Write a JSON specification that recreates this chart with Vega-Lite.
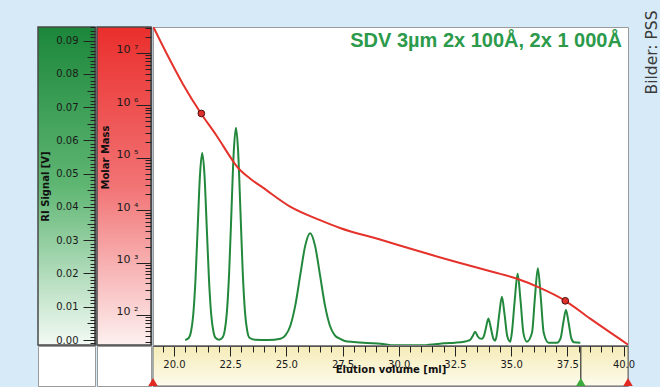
{
  "$schema": "https://vega.github.io/schema/vega-lite/v6.json",
  "background": "#d6eaf7",
  "padding": {"left": 36, "top": 9, "right": 0, "bottom": 0},
  "bounds": "flush",
  "config": {
    "view": {"stroke": "#9a9a9a", "fill": "white"},
    "font": "DejaVu Sans",
    "axis": {"grid": false, "labelFont": "DejaVu Sans", "titleFont": "DejaVu Sans"}
  },
  "datasets": {
    "ri": [
      {"V": 20.50, "RI": 0.0000}, {"V": 20.66, "RI": 0.0006}, {"V": 20.76, "RI": 0.0025}, {"V": 20.86, "RI": 0.0076},
      {"V": 20.96, "RI": 0.0182}, {"V": 21.06, "RI": 0.0341}, {"V": 21.16, "RI": 0.0496}, {"V": 21.26, "RI": 0.0562},
      {"V": 21.36, "RI": 0.0496}, {"V": 21.46, "RI": 0.0341}, {"V": 21.56, "RI": 0.0182}, {"V": 21.66, "RI": 0.0076},
      {"V": 21.76, "RI": 0.0025}, {"V": 21.86, "RI": 0.0006}, {"V": 22.01, "RI": 0.0001}, {"V": 22.16, "RI": 0.0007},
      {"V": 22.26, "RI": 0.0028}, {"V": 22.36, "RI": 0.0086}, {"V": 22.46, "RI": 0.0207}, {"V": 22.56, "RI": 0.0387},
      {"V": 22.66, "RI": 0.0563}, {"V": 22.76, "RI": 0.0638}, {"V": 22.86, "RI": 0.0563}, {"V": 22.96, "RI": 0.0387},
      {"V": 23.06, "RI": 0.0207}, {"V": 23.16, "RI": 0.0086}, {"V": 23.26, "RI": 0.0028}, {"V": 23.36, "RI": 0.0007},
      {"V": 23.60, "RI": 0.0001}, {"V": 24.20, "RI": 0.0000}, {"V": 24.74, "RI": 0.0004}, {"V": 24.96, "RI": 0.0014},
      {"V": 25.18, "RI": 0.0043}, {"V": 25.40, "RI": 0.0104}, {"V": 25.62, "RI": 0.0195}, {"V": 25.84, "RI": 0.0283},
      {"V": 26.06, "RI": 0.0321}, {"V": 26.28, "RI": 0.0283}, {"V": 26.50, "RI": 0.0195}, {"V": 26.72, "RI": 0.0104},
      {"V": 26.94, "RI": 0.0043}, {"V": 27.16, "RI": 0.0014}, {"V": 27.38, "RI": 0.0004}, {"V": 27.60, "RI": -0.0003},
      {"V": 28.00, "RI": -0.0006}, {"V": 28.60, "RI": -0.0009}, {"V": 29.20, "RI": -0.0011}, {"V": 29.80, "RI": -0.0016},
      {"V": 31.00, "RI": -0.0016}, {"V": 31.70, "RI": -0.0012}, {"V": 32.00, "RI": -0.0010}, {"V": 32.50, "RI": -0.0008},
      {"V": 32.90, "RI": -0.0005}, {"V": 33.10, "RI": -0.0002}, {"V": 33.20, "RI": 0.0002}, {"V": 33.30, "RI": 0.0013},
      {"V": 33.40, "RI": 0.0025}, {"V": 33.50, "RI": 0.0013}, {"V": 33.60, "RI": 0.0005}, {"V": 33.70, "RI": 0.0004},
      {"V": 33.80, "RI": 0.0014}, {"V": 33.88, "RI": 0.0036}, {"V": 33.99, "RI": 0.0065}, {"V": 34.10, "RI": 0.0036},
      {"V": 34.21, "RI": 0.0004}, {"V": 34.29, "RI": -0.0002}, {"V": 34.35, "RI": 0.0011}, {"V": 34.47, "RI": 0.0076},
      {"V": 34.59, "RI": 0.0130}, {"V": 34.71, "RI": 0.0076}, {"V": 34.83, "RI": 0.0011}, {"V": 34.96, "RI": -0.0005},
      {"V": 35.03, "RI": 0.0020}, {"V": 35.16, "RI": 0.0118}, {"V": 35.29, "RI": 0.0199}, {"V": 35.42, "RI": 0.0118},
      {"V": 35.55, "RI": 0.0020}, {"V": 35.70, "RI": -0.0005}, {"V": 35.93, "RI": 0.0022}, {"V": 36.06, "RI": 0.0128},
      {"V": 36.19, "RI": 0.0216}, {"V": 36.32, "RI": 0.0128}, {"V": 36.45, "RI": 0.0022}, {"V": 36.67, "RI": -0.0008},
      {"V": 37.04, "RI": -0.0008}, {"V": 37.20, "RI": 0.0005}, {"V": 37.32, "RI": 0.0051}, {"V": 37.44, "RI": 0.0090},
      {"V": 37.56, "RI": 0.0051}, {"V": 37.68, "RI": 0.0005}, {"V": 37.80, "RI": -0.0007}, {"V": 38.08, "RI": -0.0008}
    ],
    "cal": [
      {"V": 19.07, "M": 32400000}, {"V": 19.82, "M": 7410000}, {"V": 20.41, "M": 2510000}, {"V": 21.20, "M": 708000},
      {"V": 21.90, "M": 263000}, {"V": 22.64, "M": 85100}, {"V": 22.79, "M": 69200}, {"V": 23.40, "M": 39800},
      {"V": 23.96, "M": 26900}, {"V": 25.17, "M": 11700}, {"V": 26.50, "M": 6460}, {"V": 27.39, "M": 4570},
      {"V": 29.17, "M": 2750}, {"V": 30.95, "M": 1620}, {"V": 32.73, "M": 977}, {"V": 34.20, "M": 661},
      {"V": 35.27, "M": 490}, {"V": 36.21, "M": 339}, {"V": 37.41, "M": 186}, {"V": 38.52, "M": 85},
      {"V": 40.21, "M": 27}
    ],
    "markers": [
      {"V": 21.22, "M": 700000}, {"V": 37.41, "M": 186}
    ],
    "limits": [
      {"V": 19.07, "kind": "start"}, {"V": 38.10, "kind": "peak end"}, {"V": 40.20, "kind": "end"}
    ]
  },
  "columns": 3,
  "spacing": {"row": 1, "column": 2},
  "concat": [
    {
      "width": 57, "height": 318,
      "data": {"name": "ri"},
      "layer": [
        {
          "transform": [{"aggregate": [{"op": "count", "as": "n"}]}],
          "mark": {"type": "rect", "stroke": "#4a4a4a", "strokeWidth": 1.5,
            "color": {"gradient": "linear", "x1": 0, "y1": 0, "x2": 0, "y2": 1,
              "stops": [{"offset": 0, "color": "#1b873a"}, {"offset": 0.5, "color": "#5fb673"}, {"offset": 1, "color": "#f3faf4"}]}},
          "encoding": {
            "x": {"datum": 0, "type": "quantitative", "scale": {"domain": [0, 1], "nice": false, "zero": false}, "axis": null},
            "x2": {"datum": 1},
            "y": {"datum": -0.0015, "type": "quantitative", "scale": {"domain": [-0.0015, 0.0941], "nice": false, "zero": false},
              "axis": {"orient": "left", "offset": -57, "zindex": 2, "values": [0, 0.01, 0.02, 0.03, 0.04, 0.05, 0.06, 0.07, 0.08, 0.09], "format": ".2f",
                "tickSize": 12, "tickColor": "#222", "labelPadding": 5, "labelFontSize": 10, "labelColor": "#1a1a1a",
                "domain": true, "domainColor": "#4a4a4a", "domainWidth": 1.5,
                "title": "RI Signal [V]", "titleFontSize": 10, "titleFontWeight": "bold", "titleColor": "#111", "titlePadding": 5}},
            "y2": {"datum": 0.0941}
          }
        },
        {
          "mark": {"type": "rule", "opacity": 0},
          "encoding": {
            "x": {"datum": 0.5, "type": "quantitative", "scale": {"domain": [0, 1], "nice": false, "zero": false}, "axis": null},
            "y": {"field": "RI", "type": "quantitative", "scale": {"domain": [-0.0015, 0.0941], "nice": false, "zero": false},
              "axis": {"orient": "left", "offset": -57, "zindex": 2, "tickCount": 96, "tickSize": 5, "tickColor": "#222", "labels": false, "domain": false, "title": null}}
          }
        },
        {
          "mark": {"type": "rule", "opacity": 0},
          "encoding": {
            "x": {"datum": 0.5, "type": "quantitative", "scale": {"domain": [0, 1], "nice": false, "zero": false}, "axis": null},
            "y": {"field": "RI", "type": "quantitative", "scale": {"domain": [-0.0015, 0.0941], "nice": false, "zero": false},
              "axis": {"orient": "left", "offset": -57, "zindex": 2, "values": [0.005, 0.015, 0.025, 0.035, 0.045, 0.055, 0.065, 0.075, 0.085], "tickSize": 8, "tickColor": "#222", "labels": false, "domain": false, "title": null}}
          }
        }
      ],
      "resolve": {"scale": {"y": "independent"}, "axis": {"y": "independent"}}
    },
    {
      "width": 54, "height": 318,
      "data": {"name": "cal"},
      "layer": [
        {
          "transform": [{"aggregate": [{"op": "count", "as": "n"}]}],
          "mark": {"type": "rect", "stroke": "#4a4a4a", "strokeWidth": 1.5,
            "color": {"gradient": "linear", "x1": 0, "y1": 0, "x2": 0, "y2": 1,
              "stops": [{"offset": 0, "color": "#ea2e2c"}, {"offset": 0.5, "color": "#f27374"}, {"offset": 1, "color": "#fdf0f0"}]}},
          "encoding": {
            "x": {"datum": 0, "type": "quantitative", "scale": {"domain": [0, 1], "nice": false, "zero": false}, "axis": null},
            "x2": {"datum": 1},
            "y": {"datum": 26.7, "type": "quantitative", "scale": {"type": "log", "domain": [26.7, 31300000], "nice": false},
              "axis": {"orient": "left", "offset": -54, "zindex": 2, "values": [100, 1000, 10000, 100000, 1000000, 10000000],
                "labelExpr": "'10 ' + ['⁰','¹','²','³','⁴','⁵','⁶','⁷','⁸'][round(log(datum.value)/LN10)]",
                "tickSize": 15, "tickColor": "#222", "labelPadding": -2, "labelFontSize": 11, "labelColor": "#1a1a1a", "labelOffset": -3,
                "domain": true, "domainColor": "#4a4a4a", "domainWidth": 1.5,
                "title": "Molar Mass", "titleFontSize": 10, "titleFontWeight": "bold", "titleColor": "#111", "titlePadding": 6, "titleY": 130}},
            "y2": {"datum": 31300000}
          }
        },
        {
          "mark": {"type": "rule", "opacity": 0},
          "encoding": {
            "x": {"datum": 0.5, "type": "quantitative", "scale": {"domain": [0, 1], "nice": false, "zero": false}, "axis": null},
            "y": {"field": "M", "type": "quantitative", "scale": {"type": "log", "domain": [26.7, 31300000], "nice": false},
              "axis": {"orient": "left", "offset": -54, "zindex": 2,
                "values": [30, 40, 50, 60, 70, 80, 90, 200, 300, 400, 500, 600, 700, 800, 900, 2000, 3000, 4000, 5000, 6000, 7000, 8000, 9000,
                  20000, 30000, 40000, 50000, 60000, 70000, 80000, 90000, 200000, 300000, 400000, 500000, 600000, 700000, 800000, 900000,
                  2000000, 3000000, 4000000, 5000000, 6000000, 7000000, 8000000, 9000000, 20000000, 30000000],
                "tickSize": 6, "tickColor": "#222", "labels": false, "domain": false, "title": null}}
          }
        }
      ],
      "resolve": {"scale": {"y": "independent"}, "axis": {"y": "independent"}}
    },
    {
      "width": 475, "height": 318,
      "layer": [
        {
          "data": {"name": "ri"},
          "mark": {"type": "line", "color": "#22883c", "strokeWidth": 2, "clip": true, "interpolate": "monotone"},
          "encoding": {
            "x": {"field": "V", "type": "quantitative", "scale": {"domain": [19.07, 40.2], "nice": false, "zero": false}, "axis": null},
            "y": {"field": "RI", "type": "quantitative", "scale": {"domain": [-0.0015, 0.0941], "nice": false, "zero": false},
              "axis": {"orient": "right", "ticks": false, "labels": false, "domain": false, "zindex": 2,
                "title": "Bilder: PSS", "titleFont": "DejaVu Sans", "titleFontSize": 15.5, "titleFontWeight": "normal", "titleColor": "#3a3a3a",
                "titleAngle": 270, "titleAlign": "right", "titleBaseline": "top", "titleAnchor": "end", "titleY": -17, "titlePadding": 16}}
          }
        },
        {
          "data": {"name": "cal"},
          "mark": {"type": "line", "color": "#e4322b", "strokeWidth": 2, "clip": true, "interpolate": "monotone"},
          "encoding": {
            "x": {"field": "V", "type": "quantitative", "scale": {"domain": [19.07, 40.2], "nice": false, "zero": false}, "axis": null},
            "y": {"field": "M", "type": "quantitative", "scale": {"type": "log", "domain": [26.7, 31300000], "nice": false}, "axis": null}
          }
        },
        {
          "data": {"name": "markers"},
          "mark": {"type": "point", "filled": true, "color": "#e0302c", "stroke": "#4a1010", "strokeWidth": 1, "size": 45, "opacity": 1},
          "encoding": {
            "x": {"field": "V", "type": "quantitative", "scale": {"domain": [19.07, 40.2], "nice": false, "zero": false}, "axis": null},
            "y": {"field": "M", "type": "quantitative", "scale": {"type": "log", "domain": [26.7, 31300000], "nice": false}, "axis": null}
          }
        },
        {
          "data": {"name": "markers"},
          "transform": [{"aggregate": [{"op": "count", "as": "n"}]}],
          "mark": {"type": "text", "text": "SDV 3µm 2x 100Å, 2x 1 000Å", "align": "right", "baseline": "alphabetic", "font": "Liberation Sans", "fontSize": 20, "fontWeight": "bold", "color": "#2b9a4a"},
          "encoding": {
            "x": {"datum": 39.93, "type": "quantitative", "scale": {"domain": [19.07, 40.2], "nice": false, "zero": false}, "axis": null},
            "y": {"datum": 13000000, "type": "quantitative", "scale": {"type": "log", "domain": [26.7, 31300000], "nice": false}, "axis": null}
          }
        }
      ],
      "resolve": {"scale": {"y": "independent"}}
    },
    {
      "width": 57, "height": 40,
      "data": {"name": "markers"},
      "mark": {"type": "point", "opacity": 0},
      "encoding": {"x": {"field": "V", "type": "quantitative", "axis": null}}
    },
    {
      "width": 54, "height": 40,
      "data": {"name": "markers"},
      "mark": {"type": "point", "opacity": 0},
      "encoding": {"x": {"field": "V", "type": "quantitative", "axis": null}}
    },
    {
      "width": 475, "height": 40,
      "layer": [
        {
          "data": {"name": "markers"},
          "transform": [{"aggregate": [{"op": "count", "as": "n"}]}],
          "mark": {"type": "rect", "stroke": "#6a6a6a", "strokeWidth": 1,
            "color": {"gradient": "linear", "x1": 0, "y1": 0, "x2": 0, "y2": 1,
              "stops": [{"offset": 0, "color": "#f5ecb8"}, {"offset": 1, "color": "#fdfbec"}]}},
          "encoding": {
            "x": {"datum": 19.07, "type": "quantitative", "scale": {"domain": [19.07, 40.2], "nice": false, "zero": false},
              "axis": {"orient": "bottom", "offset": -40, "zindex": 2, "values": [20, 22.5, 25, 27.5, 30, 32.5, 35, 37.5, 40], "format": ".1f",
                "tickSize": 10, "tickColor": "#222", "labelPadding": 3, "labelFontSize": 10, "labelColor": "#1a1a1a", "labelFlush": false, "labelOverlap": false,
                "domain": true, "domainColor": "#555",
                "title": "Elution volume [ml]", "titleFontSize": 10, "titleFontWeight": "bold", "titleColor": "#111", "titlePadding": -5}},
            "x2": {"datum": 40.2},
            "y": {"datum": 0, "type": "quantitative", "scale": {"domain": [0, 1], "nice": false, "zero": false}, "axis": null},
            "y2": {"datum": 1}
          }
        },
        {
          "data": {"name": "ri"},
          "mark": {"type": "rule", "opacity": 0},
          "encoding": {
            "x": {"field": "V", "type": "quantitative", "scale": {"domain": [19.07, 40.2], "nice": false, "zero": false},
              "axis": {"orient": "bottom", "offset": -40, "zindex": 2,
                "values": [19.5, 20.5, 21, 21.5, 22, 23, 23.5, 24, 24.5, 25.5, 26, 26.5, 27, 28, 28.5, 29, 29.5, 30.5, 31, 31.5, 32, 33, 33.5, 34, 34.5, 35.5, 36, 36.5, 37, 38, 38.5, 39, 39.5],
                "tickSize": 6, "tickColor": "#222", "labels": false, "domain": false, "title": null}},
            "y": {"datum": 0.5, "type": "quantitative", "scale": {"domain": [0, 1], "nice": false, "zero": false}, "axis": null}
          }
        },
        {
          "data": {"name": "limits"},
          "transform": [{"filter": "datum.kind == 'peak end'"}],
          "mark": {"type": "rule", "color": "#333", "strokeWidth": 1.2},
          "encoding": {
            "x": {"field": "V", "type": "quantitative", "scale": {"domain": [19.07, 40.2], "nice": false, "zero": false}, "axis": null},
            "y": {"datum": 0.1, "type": "quantitative", "scale": {"domain": [0, 1], "nice": false, "zero": false}, "axis": null},
            "y2": {"datum": 1}
          }
        },
        {
          "data": {"name": "limits"},
          "mark": {"type": "point", "shape": "triangle-up", "filled": true, "size": 90, "opacity": 1},
          "encoding": {
            "x": {"field": "V", "type": "quantitative", "scale": {"domain": [19.07, 40.2], "nice": false, "zero": false}, "axis": null},
            "y": {"datum": 0.1, "type": "quantitative", "scale": {"domain": [0, 1], "nice": false, "zero": false}, "axis": null},
            "color": {"field": "kind", "type": "nominal", "scale": {"domain": ["start", "peak end", "end"], "range": ["#e02a22", "#3caa3c", "#e02a22"]}, "legend": null}
          }
        }
      ],
      "resolve": {"scale": {"x": "independent"}, "axis": {"x": "independent"}}
    }
  ]
}
